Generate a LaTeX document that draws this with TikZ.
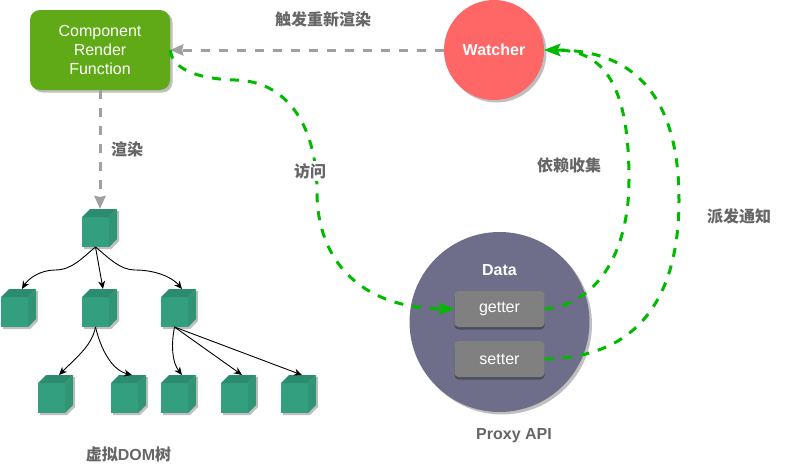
\documentclass[tikz,border=0pt]{standalone}
\usepackage{fontspec}
\setmainfont{Liberation Sans}
\newfontfamily\cjk{Noto Sans CJK SC}
\usetikzlibrary{arrows.meta,shadows}
\definecolor{rfgreen}{HTML}{60A917}
\definecolor{wred}{HTML}{FF6666}
\definecolor{dataviolet}{HTML}{6F6E8A}
\definecolor{boxgray}{HTML}{808080}
\definecolor{cubefront}{HTML}{339F7E}
\definecolor{cubetop}{HTML}{2C8C6F}
\definecolor{cubeside}{HTML}{2F9575}
\definecolor{linkgreen}{HTML}{00BA00}
\definecolor{linkgray}{HTML}{A0A0A0}
\definecolor{labelgray}{HTML}{666666}
\tikzset{
  softshadow/.style={drop shadow={shadow xshift=2.5pt,shadow yshift=-2.5pt,fill=black,opacity=0.25}},
  wtext/.style={text=white,font=\fontsize{16}{19}\selectfont,align=center},
  rfbox/.style={draw=none,fill=rfgreen,rounded corners=10pt,minimum width=140pt,minimum height=80pt,inner sep=0pt,softshadow,wtext},
  roundnode/.style={circle,draw=none,inner sep=0pt,softshadow,wtext},
  accessor/.style={fill=boxgray,rounded corners=4pt,minimum width=90pt,minimum height=36pt,inner sep=0pt,wtext,
    drop shadow={shadow xshift=0pt,shadow yshift=-2.5pt,fill=black,opacity=0.3}},
  lab/.style={text=labelgray,font=\fontsize{16}{19}\selectfont\bfseries,inner sep=1pt},
  greenlink/.style={draw=linkgreen,line width=3pt,dash pattern=on 9pt off 9pt,
    -{Stealth[length=16pt,width=12pt,inset=3pt,fill=linkgreen]}},
  graylink/.style={draw=linkgray,line width=3pt,dash pattern=on 9pt off 9pt,
    -{Stealth[length=13pt,width=11pt,inset=1pt,fill=linkgray]}},
  treelink/.style={draw=black,line width=0.9pt,-{Stealth[length=8pt,width=7pt,inset=2.5pt]}},
  cubeanchor/.style={minimum width=35pt,minimum height=38pt,inner sep=0pt,anchor=north west}
}
\newcommand{\cubeat}[3]{%
  \fill[black,opacity=0.25] (#2+10,#3+2) -- (#2+37,#3+2) -- (#2+37,#3+32) -- (#2+29,#3+40) -- (#2+2,#3+40) -- (#2+2,#3+38) -- cycle;
  \fill[cubefront] (#2,#3+8) rectangle (#2+27,#3+38);
  \fill[cubetop] (#2,#3+8) -- (#2+8,#3) -- (#2+35,#3) -- (#2+27,#3+8) -- cycle;
  \fill[cubeside] (#2+27,#3+8) -- (#2+35,#3) -- (#2+35,#3+30) -- (#2+27,#3+38) -- cycle;
  \node[cubeanchor] (#1) at (#2,#3) {};
  \coordinate (#1-in) at (#2+21,#3);
  \coordinate (#1-out) at (#2+13.5,#3+38);
}
\begin{document}
\begin{tikzpicture}[x=1pt,y=-1pt]
\useasboundingbox (0,0) rectangle (793,474);
\node[rfbox] (rf) at (100,50) {Component\\Render\\Function};
\node[roundnode,fill=wred,minimum size=100pt,font=\fontsize{16}{19}\selectfont\bfseries] (watcher) at (494,50) {Watcher};
\node[roundnode,fill=dataviolet,minimum size=180pt] (data) at (499.5,322) {};
\node[accessor] (getter) at (499.5,309) {\raisebox{-1pt}{getter}};
\node[accessor] (setter) at (499.5,359) {\raisebox{-0.5pt}{setter}};
\node[text=white,font=\fontsize{16}{19}\selectfont\bfseries,inner sep=0pt] (datalabel) at (499.5,270) {Data};
\cubeat{c0}{82}{209}
\cubeat{c1}{1}{289}
\cubeat{c2}{82}{289}
\cubeat{c3}{161}{289}
\cubeat{c4}{38}{375}
\cubeat{c5}{111}{375}
\cubeat{c6}{161}{375}
\cubeat{c7}{221}{375}
\cubeat{c8}{281}{375}
% tree
\draw[treelink] (c0-out) .. controls (82,258) and (72,270) .. (55,270) .. controls (40,270) and (28,279) .. (c1-in);
\draw[treelink] (c0-out) -- (c2-in);
\draw[treelink] (c0-out) .. controls (109,258) and (120,270) .. (135,270) .. controls (155,270) and (172,277) .. (c3-in);
\draw[treelink] (c2-out) .. controls (92,345) and (78,356) .. (c4-in);
\draw[treelink] (c2-out) .. controls (101,350) and (112,370) .. (c5-in);
\draw[treelink] (c3-out) .. controls (171,345) and (172,362) .. (c6-in);
\draw[treelink] (c3-out) -- (c7-in);
\draw[treelink] (c3-out) -- (c8-in);
% gray links
\draw[graylink] (watcher.west) -- (rf.east);
\draw[graylink] (rf.south) -- (c0.north -| rf.south);
% green links
\draw[greenlink] (rf.east) .. controls (172,70) and (200,79) .. (235,80) .. controls (290,81) and (317,130) .. (317,192) .. controls (317,260) and (360,308) .. (getter.west);
\draw[greenlink] (getter.east) .. controls (595,305) and (629,255) .. (629,180) .. controls (629,100) and (612,50) .. (watcher.east);
\draw[greenlink] (setter.east) .. controls (640,358) and (679,295) .. (679,200) .. controls (679,110) and (645,50) .. (watcher.east);
% labels
\node[lab] (l1) at (323,19) {\cjk\bfseries 触发重新渲染};
\node[lab] (l2) at (127,149) {\cjk\bfseries 渲染};
\node[lab,fill=white,inner sep=2pt] (l3) at (310,171) {\cjk\bfseries 访问};
\node[lab] (l4) at (569,165) {\cjk\bfseries 依赖收集};
\node[lab] (l5) at (739,216) {\cjk\bfseries 派发通知};
\node[lab] (l6) at (514,435.5) {Proxy API};
\node[lab] (l7) at (128.5,454) {{\cjk\bfseries 虚拟}DOM{\cjk\bfseries 树}};
\end{tikzpicture}
\end{document}
